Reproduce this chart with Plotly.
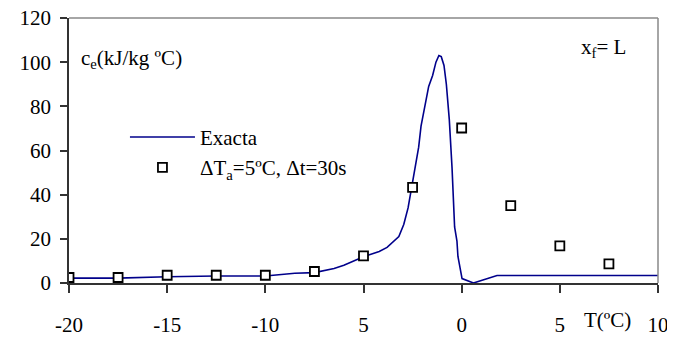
import plotly.graph_objects as go

# Exact curve
exact_T = [-20, -17.5, -15, -12.5, -10, -9, -8.5, -7.5, -7, -6.5, -6, -5, -4.2, -3.8, -3.2,
           -2.95, -2.73, -2.53, -2.33, -2.19, -2.07, -1.9, -1.68, -1.48, -1.31, -1.16, -1.04,
           -0.9, -0.78, -0.63, -0.49, -0.36, -0.24, -0.19, 0.02, 0.6, 1.8, 10]
exact_ce = [2.2, 2.2, 2.8, 3.2, 3.2, 4.2, 4.4, 4.7, 5.5, 6.6, 8, 11.9, 14.3, 16.1, 21,
            26.5, 34, 43.5, 53, 61.5, 71, 79, 89, 94, 100, 103, 102.5,
            98.5, 90, 74, 52, 25.4, 19, 12, 2, 0, 3.4, 3.4]

# Approximate (ΔTa=5ºC, Δt=30s)
approx_T = [-20, -17.5, -15, -12.5, -10, -7.5, -5, -2.5, 0, 2.5, 5, 7.5]
approx_ce = [2.5, 2.5, 3.5, 3.5, 3.5, 5.2, 12.3, 43.3, 70.2, 35, 16.8, 8.7]

x_tickvals = [-20, -15, -10, -5, 0, 5, 10]
x_ticktext = ["-20", "-15", "-10", "5", "0", "5", "10"]
y_tickvals = [0, 20, 40, 60, 80, 100, 120]

FONT = "Liberation Serif, Times New Roman, serif"
FS = 21

fig = go.Figure()
fig.add_trace(go.Scatter(x=exact_T, y=exact_ce, mode="lines", name="Exacta",
                         line=dict(color="#00008B", width=1.6)))
fig.add_trace(go.Scatter(x=approx_T, y=approx_ce, mode="markers",
                         name="ΔT<sub>a</sub>=5ºC, Δt=30s",
                         marker=dict(symbol="square", size=9, color="white",
                                     line=dict(color="black", width=1.8))))

# page body adds an 8px margin, so the figure is 8px smaller and shifted
fig.update_layout(
    width=667, height=330,
    margin=dict(l=61, r=17, t=9.5, b=55, autoexpand=False),
    paper_bgcolor="white", plot_bgcolor="white",
    font=dict(family=FONT, size=FS, color="black"),
    showlegend=True,
    legend=dict(x=0.095, y=0.627, xanchor="left", yanchor="top",
                bgcolor="rgba(0,0,0,0)", font=dict(size=FS, family=FONT),
                itemwidth=65, tracegroupgap=0),
    xaxis=dict(range=[-20, 10], tickvals=x_tickvals, ticktext=x_ticktext,
               showgrid=False, zeroline=False, showline=True, linecolor="#333",
               linewidth=1.5, ticks="outside", ticklen=8, tickcolor="#333",
               tickwidth=1.5, ticklabelstandoff=14, automargin=False,
               ticklabeloverflow="allow",
               tickfont=dict(size=FS, family=FONT)),
    yaxis=dict(range=[0, 120], tickvals=y_tickvals, showgrid=False, zeroline=False,
               showline=True, linecolor="#333", linewidth=1.5, ticks="outside",
               ticklen=7, tickcolor="#333", tickwidth=1.5, ticklabelstandoff=5,
               automargin=False, ticklabeloverflow="allow",
               tickfont=dict(size=FS, family=FONT)),
    shapes=[
        dict(type="line", xref="paper", yref="paper", x0=0, x1=1, y0=1, y1=1,
             line=dict(color="#888", width=1.5)),
        dict(type="line", xref="paper", yref="paper", x0=1, x1=1, y0=0, y1=1,
             line=dict(color="#888", width=1.5)),
    ],
    annotations=[
        dict(text="c<sub>e</sub>(kJ/kg ºC)", x=-19.5, y=101.5, xref="x", yref="y",
             xanchor="left", yanchor="middle", showarrow=False,
             font=dict(size=FS, family=FONT)),
        dict(text="x<sub>f</sub>= L", x=6.0, y=106.5, xref="x", yref="y",
             xanchor="left", yanchor="middle", showarrow=False,
             font=dict(size=FS, family=FONT)),
        dict(text="T(ºC)", x=7.45, y=-0.14, xref="x", yref="paper",
             xanchor="center", yanchor="middle", showarrow=False,
             font=dict(size=FS, family=FONT)),
    ],
)

fig.write_html("out.html")
